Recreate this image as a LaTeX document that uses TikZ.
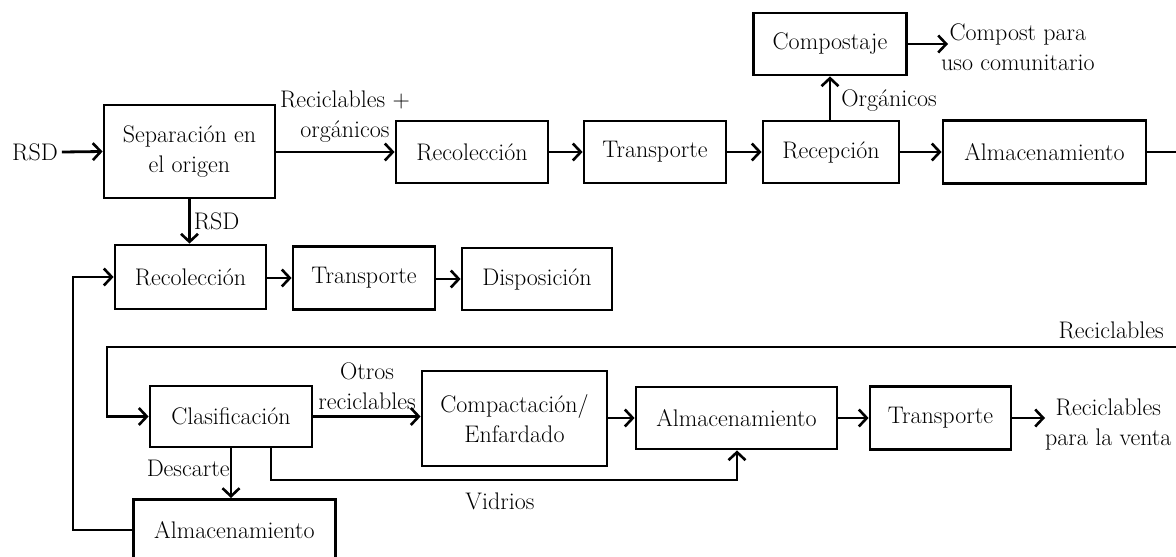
\documentclass[tikz,border=0pt]{standalone}
\usepackage{fontspec}
\usetikzlibrary{arrows.meta}
\begin{document}
\begin{tikzpicture}[x=1pt,y=-1pt,
  box/.style={draw, line width=2.8pt, rectangle, inner sep=0pt, align=center},
  lbl/.style={inner sep=0pt, align=center},
  arr/.style={line width=2.8pt, -{Straight Barb[length=8pt,width=17pt,line width=2.6pt]}},
  ln/.style={line width=2.8pt},
  font=\fontsize{24}{30}\selectfont]
\useasboundingbox (0,0) rectangle (1176,557);

% main collection line
\node[lbl] (rsdin) at (35,152) {RSD};
\node[box, minimum width=171, minimum height=93] (sep) at (189.5,151.5) {Separación en\\el origen};
\node[box, minimum width=152, minimum height=62] (rec1) at (472,152) {Recolección};
\node[box, minimum width=142, minimum height=62] (tra1) at (655,152) {Transporte};
\node[box, minimum width=136, minimum height=62] (recep) at (831,152) {Recepción};
\node[box, minimum width=203, minimum height=63] (alm1) at (1044.5,152) {Almacenamiento};
\node[box, minimum width=153, minimum height=62] (comp) at (830,44) {Compostaje};
\node[lbl, anchor=west] (cmpt) at (941,47) {Compost para\\uso comunitario};
\coordinate (cmpin) at (948,44);
\coordinate (alm1out) at (1180,152);

\draw[arr] (rsdin.east) ++(4,0) -- (sep.west);
\draw[arr] (sep.east |- rec1) -- (rec1.west)
  node[lbl, pos=0.58, above=8pt] {Reciclables +\\orgánicos};
\draw[arr] (rec1) -- (tra1);
\draw[arr] (tra1) -- (recep);
\draw[arr] (recep) -- (alm1);
\draw[ln] (alm1.east) -- (alm1out);
\draw[arr] (recep.north -| comp) -- (comp.south)
  node[lbl, anchor=west, pos=0.45, xshift=10pt] {Orgánicos};
\draw[arr] (comp.east |- cmpin) -- (cmpin);

% residual waste line
\node[box, minimum width=151, minimum height=64] (rec2) at (190.5,277) {Recolección};
\node[box, minimum width=142, minimum height=63] (tra2) at (364,278) {Transporte};
\node[box, minimum width=150, minimum height=62] (disp) at (537,279) {Disposición};

\draw[arr] (sep.south) -- (sep.south |- rec2.north)
  node[lbl, anchor=west, pos=0.5, xshift=3pt] {RSD};
\draw[arr] (rec2.east |- tra2) -- (tra2.west);
\draw[arr] (tra2.east |- disp) -- (disp.west);

% sorting line
\node[box, minimum width=162, minimum height=61] (clas) at (231,416.5) {Clasificación};
\node[box, minimum width=185, minimum height=95] (compac) at (514.5,418.5) {Compactación/\\Enfardado};
\node[box, minimum width=201, minimum height=62] (alm2) at (736.5,418) {Almacenamiento};
\node[box, minimum width=141, minimum height=63] (tra3) at (940.5,418) {Transporte};
\node[lbl, anchor=west] (venta) at (1045,425) {Reciclables\\para la venta};
\node[box, minimum width=202, minimum height=62, anchor=north west] (alm3) at (132,498) {Almacenamiento};

\coordinate (rin) at (1180,347);
\coordinate (rcorner) at (107,347);
\node[lbl, anchor=south east] at (1164,339) {Reciclables};
\draw[arr] (rin) -- (rcorner) |- (clas.west);

\draw[arr] (clas.east) -- (clas.east -| compac.west)
  node[lbl, pos=0.5, above=5pt] {Otros\\reciclables};
\draw[arr] (compac.east |- alm2) -- (alm2.west);
\draw[arr] (alm2) -- (tra3);
\draw[arr] (tra3.east) -- (tra3.east -| venta.west);

\draw[arr] (clas.south) -- (clas.south |- alm3.north)
  node[lbl, anchor=east, pos=0.5, yshift=5pt] {Descarte};

\coordinate (vidl) at (271,480);
\coordinate (vidr) at (737,480);
\draw[arr] (clas.south -| vidl) -- (vidl) -- (vidr) -- (vidr |- alm2.south);
\node[lbl] at (500,501) {Vidrios};

\coordinate (fbx) at (73,530);
\draw[arr] (alm3.west |- fbx) -- (fbx) |- (rec2.west);
\end{tikzpicture}
\end{document}
